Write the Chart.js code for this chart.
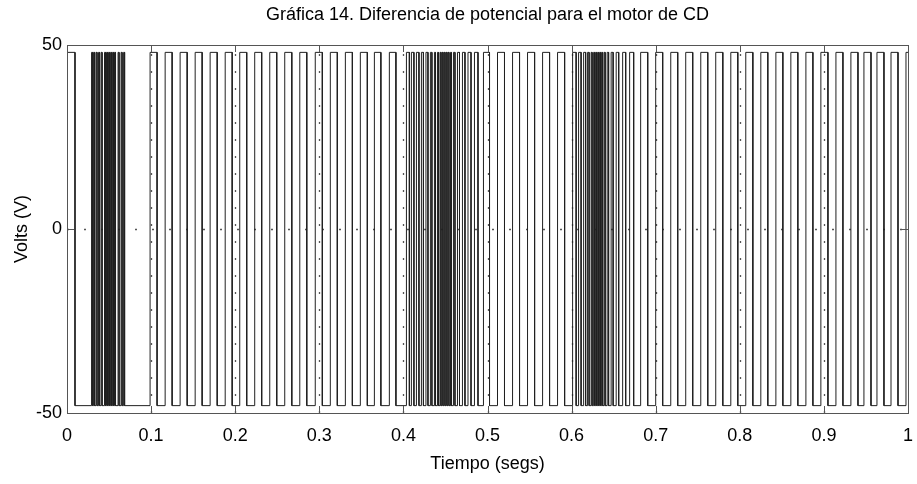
<!DOCTYPE html>
<html>
<head>
<meta charset="utf-8">
<script src="https://cdn.jsdelivr.net/npm/chart.js@4/dist/chart.umd.min.js"></script>
<style>
  html, body { margin: 0; padding: 0; background: #ffffff; }
  #c { display: block; }
</style>
</head>
<body>
<canvas id="c" width="917" height="484"></canvas>
<script>
// ---------- data ----------
const chartTitle = "Gráfica 14. Diferencia de potencial para el motor de CD";
const xTitle = "Tiempo (segs)";
const yTitle = "Volts (V)";
const xTickValues = [0, 0.1, 0.2, 0.3, 0.4, 0.5, 0.6, 0.7, 0.8, 0.9, 1];
const xTickLabels = ["0", "0.1", "0.2", "0.3", "0.4", "0.5", "0.6", "0.7", "0.8", "0.9", "1"];
const yTickValues = [-50, 0, 50];
const yTickLabels = ["-50", "0", "50"];
// voltage levels of the switched signal (starts high)
const levels = [48, -48];
// switching instants (s), segment by segment
const switchStart = [0.0095];
const switchDense1 = [0.0292, 0.0304, 0.0316, 0.0328, 0.0345, 0.0357, 0.0375, 0.0387, 0.0405, 0.0417,
  0.0446, 0.0458, 0.0470, 0.0482, 0.0494, 0.0506, 0.0518, 0.0530, 0.0542, 0.0554, 0.0565, 0.0577,
  0.0607, 0.0619, 0.0643, 0.0655, 0.0673, 0.0685];
const switchRegular1 = [0.0988, 0.1071, 0.1167, 0.1250, 0.1345, 0.1429, 0.1524, 0.1607, 0.1702, 0.1786,
  0.1881, 0.1964, 0.2054, 0.2137, 0.2232, 0.2315, 0.2411, 0.2494, 0.2589, 0.2673, 0.2768, 0.2851,
  0.2952, 0.3036, 0.3131, 0.3214, 0.3310, 0.3393, 0.3488, 0.3571, 0.3655, 0.3732, 0.3833, 0.3911];
const switchDense2 = [0.4036, 0.4071, 0.4095, 0.4125, 0.4155, 0.4185, 0.4214, 0.4238, 0.4268, 0.4292,
  0.4321, 0.4339, 0.4369, 0.4381, 0.4405, 0.4417, 0.4435, 0.4446, 0.4458, 0.4470, 0.4482, 0.4494,
  0.4506, 0.4518, 0.4530, 0.4542, 0.4560, 0.4571, 0.4595, 0.4613, 0.4643, 0.4667, 0.4702, 0.4732,
  0.4768, 0.4804, 0.4845, 0.4887, 0.4952, 0.5024];
const switchRegular2 = [0.5119, 0.5202, 0.5298, 0.5381, 0.5476, 0.5560, 0.5655, 0.5738, 0.5833, 0.5917];
const switchDense3 = [0.6012, 0.6054, 0.6083, 0.6113, 0.6143, 0.6167, 0.6190, 0.6208, 0.6232, 0.6244,
  0.6262, 0.6274, 0.6286, 0.6298, 0.6310, 0.6321, 0.6333, 0.6345, 0.6357, 0.6369, 0.6387, 0.6399,
  0.6423, 0.6440, 0.6470, 0.6494, 0.6530, 0.6560, 0.6607, 0.6643, 0.6690, 0.6738];
const switchRegular3 = [0.6821, 0.6905, 0.7000, 0.7083, 0.7179, 0.7262, 0.7357, 0.7440, 0.7536, 0.7619,
  0.7714, 0.7798, 0.7893, 0.7976, 0.8071, 0.8155, 0.8250, 0.8333, 0.8429, 0.8512, 0.8607, 0.8690,
  0.8786, 0.8869, 0.8964, 0.9048, 0.9143, 0.9226, 0.9321, 0.9405, 0.9476, 0.9560, 0.9631, 0.9714,
  0.9798, 0.9881, 0.9976];

// ---------- build the step signal from the switching instants ----------
const allSwitches = [].concat(switchStart, switchDense1, switchRegular1, switchDense2,
  switchRegular2, switchDense3, switchRegular3);
const signal = [{ x: 0, y: levels[0] }];
let lv = 0;
for (const t of allSwitches) {
  signal.push({ x: t, y: levels[lv] });
  lv = 1 - lv;
  signal.push({ x: t, y: levels[lv] });
}
signal.push({ x: 1, y: levels[lv] });

const FONT = "'Liberation Sans', Arial, Helvetica, sans-serif";

// frame, dotted grid and inward ticks (MATLAB style) drawn through the scales
const framePlugin = {
  id: 'frame',
  beforeDatasetsDraw(chart) {
    const { ctx, chartArea: a, scales: { x, y } } = chart;
    ctx.save();
    ctx.strokeStyle = '#555';
    ctx.lineWidth = 1.3;
    ctx.setLineDash([2, 15]);
    xTickValues.forEach(v => {
      if (v <= 0 || v >= 1) return;
      const px = Math.round(x.getPixelForValue(v)) + 0.5;
      ctx.beginPath(); ctx.moveTo(px, a.bottom); ctx.lineTo(px, a.top); ctx.stroke();
    });
    const py0 = Math.round(y.getPixelForValue(0)) + 0.5;
    ctx.beginPath(); ctx.moveTo(a.left, py0); ctx.lineTo(a.right, py0); ctx.stroke();
    ctx.restore();
  },
  afterDatasetsDraw(chart) {
    const { ctx, chartArea: a, scales: { x, y } } = chart;
    ctx.save();
    ctx.strokeStyle = '#555';
    ctx.lineWidth = 1;
    ctx.setLineDash([]);
    ctx.strokeRect(Math.round(a.left) + 0.5, Math.round(a.top) + 0.5,
      Math.round(a.right - a.left), Math.round(a.bottom - a.top));
    const tl = 7;
    ctx.beginPath();
    xTickValues.forEach(v => {
      const px = Math.round(x.getPixelForValue(v)) + 0.5;
      ctx.moveTo(px, a.bottom); ctx.lineTo(px, a.bottom - tl);
      ctx.moveTo(px, a.top); ctx.lineTo(px, a.top + tl);
    });
    yTickValues.forEach(v => {
      const py = Math.round(y.getPixelForValue(v)) + 0.5;
      ctx.moveTo(a.left, py); ctx.lineTo(a.left + tl, py);
      ctx.moveTo(a.right, py); ctx.lineTo(a.right - tl, py);
    });
    ctx.stroke();
    ctx.restore();
  }
};

new Chart(document.getElementById('c'), {
  type: 'line',
  data: {
    datasets: [{
      data: signal,
      borderColor: '#202020',
      borderWidth: 1,
      pointRadius: 0,
      tension: 0,
      fill: false
    }]
  },
  options: {
    responsive: false,
    animation: false,
    events: [],
    layout: { padding: { left: 0, right: 9, top: 0, bottom: 0 } },
    plugins: {
      legend: { display: false },
      tooltip: { enabled: false },
      title: {
        display: true,
        text: chartTitle,
        fullSize: false,
        color: '#000',
        font: { family: FONT, size: 18, weight: 'normal' },
        padding: { top: 4, bottom: 19.4 }
      }
    },
    scales: {
      x: {
        type: 'linear',
        min: 0, max: 1,
        afterBuildTicks: s => { s.ticks = xTickValues.map(v => ({ value: v })); },
        afterFit: s => { s.height = 71; s.paddingLeft = 0; s.paddingRight = 0; },
        grid: { display: false, drawTicks: false },
        border: { display: false },
        ticks: {
          color: '#000',
          font: { family: FONT, size: 18 },
          padding: 12,
          maxRotation: 0,
          autoSkip: false,
          callback: (v, i) => xTickLabels[i]
        },
        title: {
          display: true, text: xTitle, color: '#000',
          font: { family: FONT, size: 18 },
          padding: { top: 0, bottom: 9 }
        }
      },
      y: {
        type: 'linear',
        min: -50, max: 50,
        afterBuildTicks: s => { s.ticks = yTickValues.map(v => ({ value: v })); },
        afterFit: s => { s.width = 67; },
        grid: { display: false, drawTicks: false },
        border: { display: false },
        ticks: {
          color: '#000',
          font: { family: FONT, size: 18 },
          padding: 5,
          autoSkip: false,
          callback: (v, i) => yTickLabels[i]
        },
        title: {
          display: true, text: yTitle, color: '#000',
          font: { family: FONT, size: 18 },
          padding: { top: 11, bottom: 0 }
        }
      }
    }
  },
  plugins: [framePlugin]
});
</script>
</body>
</html>
